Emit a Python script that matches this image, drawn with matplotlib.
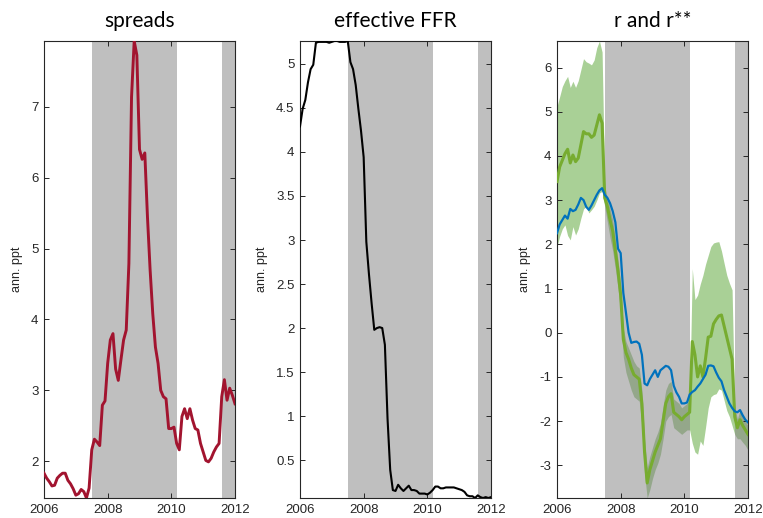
import numpy as np
import matplotlib
matplotlib.use("Agg")
import matplotlib.pyplot as plt
from matplotlib.ticker import FormatStrFormatter

# --- datos mensuales, ene-2006 a ene-2012 ---
meses = 2006 + np.arange(73) / 12.0

spreads = [1.83, 1.76, 1.71, 1.65, 1.66, 1.76, 1.80, 1.83, 1.83, 1.73, 1.68, 1.61,
           1.52, 1.54, 1.60, 1.57, 1.48, 1.62, 2.16, 2.31, 2.27, 2.22, 2.79, 2.85,
           3.38, 3.71, 3.80, 3.30, 3.14, 3.43, 3.71, 3.85, 4.79, 7.14, 7.93, 7.73,
           6.40, 6.26, 6.35, 5.45, 4.70, 4.08, 3.61, 3.38, 3.00, 2.91, 2.88, 2.46,
           2.46, 2.48, 2.25, 2.16, 2.63, 2.74, 2.60, 2.74, 2.58, 2.46, 2.44, 2.25,
           2.13, 2.01, 1.99, 2.04, 2.13, 2.20, 2.25, 2.91, 3.15, 2.86, 3.03, 2.93,
           2.81]

ffr = [4.29, 4.49, 4.59, 4.79, 4.94, 4.99, 5.24, 5.25, 5.25, 5.25, 5.25, 5.24,
       5.25, 5.26, 5.26, 5.25, 5.25, 5.25, 5.26, 5.02, 4.94, 4.76, 4.49, 4.24,
       3.94, 2.98, 2.61, 2.28, 1.98, 2.00, 2.01, 2.00, 1.81, 0.97, 0.39, 0.16,
       0.15, 0.22, 0.18, 0.15, 0.18, 0.21, 0.16, 0.16, 0.15, 0.12, 0.12, 0.12,
       0.11, 0.13, 0.16, 0.20, 0.20, 0.18, 0.18, 0.19, 0.19, 0.19, 0.19, 0.18,
       0.17, 0.16, 0.14, 0.10, 0.09, 0.09, 0.07, 0.10, 0.08, 0.07, 0.08, 0.07,
       0.08]

r = [2.25, 2.45, 2.55, 2.65, 2.58, 2.80, 2.75, 2.78, 2.90, 3.05, 3.00, 2.85,
     2.78, 2.88, 3.00, 3.12, 3.22, 3.27, 3.12, 3.05, 2.93, 2.75, 2.50, 1.90,
     1.80, 0.90, 0.45, 0.00, -0.23, -0.21, -0.20, -0.25, -0.50, -1.15, -1.19, -1.05,
     -0.95, -0.85, -1.00, -0.85, -0.80, -0.75, -0.77, -0.85, -1.20, -1.35, -1.45, -1.60,
     -1.60, -1.58, -1.40, -1.34, -1.30, -1.22, -1.15, -1.05, -0.95, -0.75, -0.74, -0.76,
     -0.90, -1.02, -1.10, -1.30, -1.45, -1.60, -1.70, -1.78, -1.80, -1.75, -1.87, -1.97,
     -2.03]

r_star = [3.42, 3.75, 3.90, 4.05, 4.15, 3.84, 4.02, 3.87, 3.95, 4.25, 4.55, 4.50,
          4.50, 4.42, 4.47, 4.70, 4.93, 4.74, 3.05, 2.85, 2.55, 2.30, 1.85, 1.40,
          0.85, -0.15, -0.45, -0.60, -0.80, -0.95, -1.00, -1.05, -1.60, -2.70, -3.40, -3.10,
          -2.90, -2.70, -2.55, -2.40, -2.00, -1.60, -1.45, -1.38, -1.80, -1.85, -1.90, -1.97,
          -1.90, -1.85, -1.80, -0.20, -0.50, -1.00, -0.75, -1.00, -0.58, -0.10, -0.08, 0.20,
          0.30, 0.38, 0.40, 0.15, -0.10, -0.35, -0.60, -1.90, -2.15, -1.97, -2.10, -2.20,
          -2.30]

r_star_hi = [5.12, 5.34, 5.57, 5.70, 5.80, 5.55, 5.69, 5.55, 5.70, 5.95, 6.20, 6.13,
             6.10, 6.06, 6.17, 6.45, 6.60, 6.35, 3.30, 3.05, 2.80, 2.55, 2.10, 1.65,
             1.10, 0.10, -0.20, -0.35, -0.50, -0.65, -0.75, -0.80, -1.30, -2.40, -3.05, -2.80,
             -2.60, -2.40, -2.25, -2.05, -1.65, -1.30, -1.15, -1.10, -1.50, -1.55, -1.60, -1.70,
             -1.65, -1.60, -1.55, 1.45, 0.75, 0.85, 1.10, 1.30, 1.55, 1.75, 1.95, 2.03,
             2.05, 2.06, 1.85, 1.57, 1.30, 1.12, 0.97, -1.70, -1.95, -1.75, -1.90, -2.00,
             -2.10]

r_star_lo = [1.95, 2.18, 2.35, 2.44, 2.20, 2.10, 2.40, 2.21, 2.35, 2.59, 2.80, 2.86,
             2.71, 2.78, 2.86, 3.00, 3.16, 3.20, 2.85, 2.50, 2.15, 1.85, 1.45, 1.00,
             0.45, -0.55, -0.90, -1.10, -1.30, -1.45, -1.50, -1.55, -2.10, -3.20, -3.74, -3.55,
             -3.30, -3.10, -2.95, -2.75, -2.40, -2.00, -1.90, -1.85, -2.15, -2.20, -2.25, -2.30,
             -2.25, -2.20, -2.20, -2.50, -2.70, -2.75, -2.45, -2.55, -2.14, -1.70, -1.45, -1.40,
             -1.38, -1.27, -1.30, -1.53, -1.76, -1.90, -2.10, -2.30, -2.40, -2.40, -2.48, -2.55,
             -2.66]

# periodos sombreados
sombra_ini = [2007.5, 2011.583]
sombra_fin = [2010.17, 2012.0]

anios = [2006, 2008, 2010, 2012]

gris_ejes = '#262626'
rojo = '#A2142F'
azul = '#0072BD'
verde = '#77AC30'
verde_banda = '#A9D096'

plt.rcParams['font.family'] = ['Liberation Sans', 'DejaVu Sans']

fig = plt.figure(figsize=(7.63, 5.18), dpi=100)
izq = [44 / 763, 300 / 763, 557 / 763]
ancho = 191 / 763
abajo = 20 / 518
alto = 457 / 518
axs = [fig.add_axes([x0, abajo, ancho, alto]) for x0 in izq]


def preparar(ax, titulo, datos_y):
    # sombra semitransparente encima de la banda, debajo de las lineas
    for s, e in zip(sombra_ini, sombra_fin):
        ax.axvspan(s, e, facecolor='#808080', alpha=0.5, lw=0, zorder=1)
    ax.set_xlim(2006, 2012)
    ax.set_ylim(min(datos_y), max(datos_y))
    ax.set_xticks(anios)
    ax.tick_params(direction='in', top=True, right=True, length=3.5, width=0.7,
                   color=gris_ejes, labelcolor=gris_ejes, labelsize=9.5, pad=4)
    for sp in ax.spines.values():
        sp.set_color(gris_ejes)
        sp.set_linewidth(0.8)
    ax.set_ylabel('ann. ppt', fontsize=9, color=gris_ejes, labelpad=6)
    ax.set_title(titulo, fontsize=15, family='Lato', color='black', pad=10)
    ax.yaxis.set_major_formatter(FormatStrFormatter('%g'))


# 1. spreads
ax = axs[0]
ax.plot(meses, spreads, color=rojo, lw=2.1, zorder=3)
preparar(ax, 'spreads', spreads)
ax.set_yticks([2, 3, 4, 5, 6, 7])

# 2. FFR efectiva
ax = axs[1]
ax.plot(meses, ffr, color='black', lw=1.5, zorder=3)
preparar(ax, 'effective FFR', ffr)
ax.set_yticks(np.arange(0.5, 5.01, 0.5))

# 3. r y r**
ax = axs[2]
ax.fill_between(meses, r_star_lo, r_star_hi, color=verde_banda, lw=0, zorder=0.5)
ax.plot(meses, r_star, color=verde, lw=2.2, zorder=3)
ax.plot(meses, r, color=azul, lw=1.6, zorder=4)
preparar(ax, 'r and r**', r_star_lo + r_star_hi)
ax.set_yticks(np.arange(-3, 7, 1))

fig.savefig('out.png', dpi=100)
